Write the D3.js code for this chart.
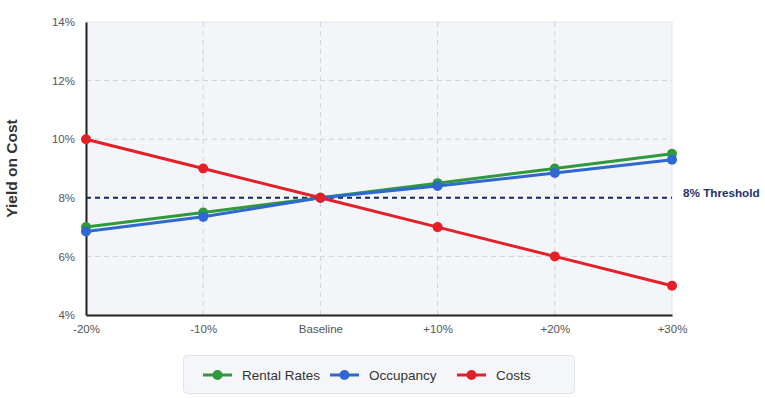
<!DOCTYPE html>
<html>
<head>
<meta charset="utf-8">
<script src="https://cdn.jsdelivr.net/npm/d3@7"></script>
<style>
  html, body { margin: 0; padding: 0; background: #ffffff; }
  svg { display: block; font-family: Arial, "Liberation Sans", sans-serif; }
</style>
</head>
<body>
<svg id="chart" width="765" height="398"></svg>
<script>
const categories = ["-20%", "-10%", "Baseline", "+10%", "+20%", "+30%"];
const rentalRates = [7.0, 7.5, 8.0, 8.5, 9.0, 9.5];
const occupancy = [6.85, 7.35, 8.0, 8.4, 8.85, 9.3];
const costs = [10.0, 9.0, 8.0, 7.0, 6.0, 5.0];
const yTicks = [4, 6, 8, 10, 12, 14];
const threshold = 8;
const seriesNames = ["Rental Rates", "Occupancy", "Costs"];
const seriesColors = ["#2e9a3c", "#2f68d0", "#e32027"];

const series = [
  { name: seriesNames[0], values: rentalRates, color: seriesColors[0] },
  { name: seriesNames[1], values: occupancy, color: seriesColors[1] },
  { name: seriesNames[2], values: costs, color: seriesColors[2] }
];

const svg = d3.select("#chart");
const pLeft = 86, pRight = 672, pTop = 22, pBottom = 315;

const x = d3.scalePoint().domain(categories).range([pLeft, pRight]);
const y = d3.scaleLinear().domain([4, 14]).range([pBottom, pTop]);

// plot background
svg.append("rect")
  .attr("x", pLeft).attr("y", pTop)
  .attr("width", pRight - pLeft).attr("height", pBottom - pTop)
  .attr("fill", "#f3f5f9")
  .attr("stroke", "#e3e6ec").attr("stroke-width", 1);

// grid
const grid = svg.append("g");
grid.selectAll("line.h").data(yTicks.filter(t => t !== 4 && t !== 14)).enter()
  .append("line")
  .attr("x1", pLeft).attr("x2", pRight)
  .attr("y1", d => y(d)).attr("y2", d => y(d))
  .attr("stroke", "#cfd2d8").attr("stroke-width", 1)
  .attr("stroke-dasharray", "5,4");
grid.selectAll("line.v").data(categories.slice(1, -1)).enter()
  .append("line")
  .attr("x1", d => x(d)).attr("x2", d => x(d))
  .attr("y1", pTop).attr("y2", pBottom)
  .attr("stroke", "#cfd2d8").attr("stroke-width", 1)
  .attr("stroke-dasharray", "5,4");

// axes
const yAxis = d3.axisLeft(y).tickValues(yTicks).tickFormat(d => d + "%").tickSize(0).tickPadding(11);
const gy = svg.append("g").attr("transform", `translate(${pLeft},0)`).call(yAxis);
gy.select(".domain").attr("stroke", "#222").attr("stroke-width", 2);
gy.selectAll("text").attr("fill", "#555").style("font-size", "11.5px");

const xAxis = d3.axisBottom(x).tickSize(0).tickPadding(10);
const gx = svg.append("g").attr("transform", `translate(0,${pBottom})`).call(xAxis);
gx.select(".domain").attr("stroke", "#222").attr("stroke-width", 2);
gx.selectAll("text").attr("fill", "#555").style("font-size", "11.5px");

// y axis title
svg.append("text")
  .attr("transform", `translate(17,${(pTop + pBottom) / 2}) rotate(-90)`)
  .attr("text-anchor", "middle")
  .attr("fill", "#333")
  .style("font-size", "15.5px").style("font-weight", "bold")
  .text("Yield on Cost");

// threshold
svg.append("line")
  .attr("x1", pLeft).attr("x2", pRight)
  .attr("y1", y(threshold)).attr("y2", y(threshold))
  .attr("stroke", "#14285e").attr("stroke-width", 2)
  .attr("stroke-dasharray", "5,4");
svg.append("text")
  .attr("x", pRight + 11).attr("y", y(threshold) - 1)
  .attr("fill", "#1d3170")
  .style("font-size", "11.7px").style("font-weight", "bold")
  .text("8% Threshold");

// lines
const line = d3.line().x((d, i) => x(categories[i])).y(d => y(d));
series.forEach(s => {
  svg.append("path")
    .datum(s.values)
    .attr("d", line)
    .attr("fill", "none")
    .attr("stroke", s.color)
    .attr("stroke-width", 3);
});
series.forEach(s => {
  svg.append("g").selectAll("circle").data(s.values).enter()
    .append("circle")
    .attr("cx", (d, i) => x(categories[i]))
    .attr("cy", d => y(d))
    .attr("r", 5)
    .attr("fill", s.color);
});

// legend
const lg = svg.append("g");
lg.append("rect")
  .attr("x", 183.5).attr("y", 355.5)
  .attr("width", 391).attr("height", 38)
  .attr("rx", 4)
  .attr("fill", "#f5f6f9").attr("stroke", "#dfe2e7");
const legendX = [203, 330, 457];
series.forEach((s, i) => {
  const g = lg.append("g").attr("transform", `translate(${legendX[i]},375)`);
  g.append("line").attr("x1", 0).attr("x2", 29).attr("y1", 0).attr("y2", 0)
    .attr("stroke", s.color).attr("stroke-width", 3);
  g.append("circle").attr("cx", 14.5).attr("cy", 0).attr("r", 5).attr("fill", s.color);
  g.append("text").attr("x", 39).attr("y", 5)
    .attr("fill", "#333").style("font-size", "13.5px")
    .text(s.name);
});
</script>
</body>
</html>
